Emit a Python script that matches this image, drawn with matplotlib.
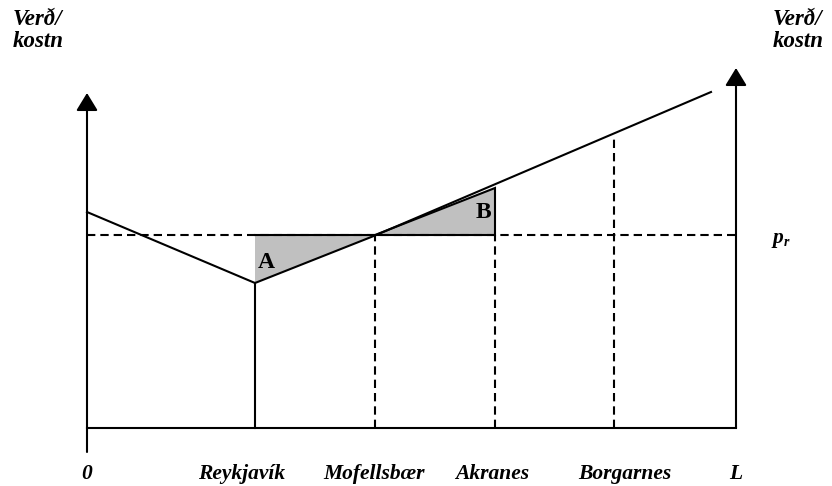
import matplotlib
matplotlib.use("Agg")
import matplotlib.pyplot as plt
from matplotlib.patches import Polygon

# ---- data (diagram units: distance along the road / price-cost level) ----
places = ["0", "Reykjavík", "Mofellsbær", "Akranes", "Borgarnes", "L"]
place_x = [0, 168, 288, 408, 527, 649]          # positions of places on the road
label_x = [0, 155, 287, 405, 538, 649]          # centres of the place labels
price_level = 192.5                              # p_r
cost_x = [0, 168, 288, 624]                      # cost curve break points
cost_y = [216, 145, 192.5, 336]
borgarnes_top = 290
akranes_top = 240
left_axis = (-24, 335)
right_axis = (0, 360)

FONT = "Liberation Serif"

fig = plt.figure(figsize=(8.32, 4.86), dpi=100)
ax = fig.add_axes([0, 0, 1, 1])
ax.set_xlim(-87, 832 - 87)
ax.set_ylim(428 - 486, 428)
ax.axis("off")

LW = 1.5
dash = (0, (4, 2.4))

# shaded triangles A and B
triA = Polygon([(place_x[1], price_level), (place_x[2], price_level), (place_x[1], cost_y[1])],
               closed=True, facecolor="#c0c0c0", edgecolor="none", zorder=1)
triB = Polygon([(place_x[2], price_level), (place_x[3], price_level), (place_x[3], akranes_top)],
               closed=True, facecolor="#c0c0c0", edgecolor="black", lw=LW, zorder=1)
ax.add_patch(triA)
ax.add_patch(triB)
ax.plot([place_x[1], place_x[2]], [price_level, price_level], color="black", lw=LW, zorder=2)

# axes with arrows
arrow = dict(arrowstyle="-|>,head_length=0.9,head_width=0.55", lw=LW, color="black",
             shrinkA=0, shrinkB=0, mutation_scale=12)
ax.annotate("", xy=(place_x[0], left_axis[1]), xytext=(place_x[0], left_axis[0]), arrowprops=arrow)
ax.annotate("", xy=(place_x[-1], right_axis[1]), xytext=(place_x[-1], right_axis[0]), arrowprops=arrow)
ax.plot([place_x[0], place_x[-1]], [0, 0], color="black", lw=LW)

# price level (dashed)
ax.plot([place_x[0], place_x[-1]], [price_level, price_level], color="black", lw=LW, linestyle=dash, zorder=1.5)

# cost curve
ax.plot(cost_x, cost_y, color="black", lw=LW, zorder=3)

# vertical lines at places
ax.plot([place_x[1], place_x[1]], [0, cost_y[1]], color="black", lw=LW)
ax.plot([place_x[2], place_x[2]], [0, price_level], color="black", lw=LW, linestyle=dash)
ax.plot([place_x[3], place_x[3]], [0, price_level], color="black", lw=LW, linestyle=dash)
ax.plot([place_x[4], place_x[4]], [0, borgarnes_top], color="black", lw=LW, linestyle=dash)

# labels
tkw = dict(family=FONT, fontweight="bold", fontstyle="italic", fontsize=15.5, color="black")
for lx, name in zip(label_x, places):
    ax.text(lx, -46, name, ha="center", va="center", **tkw)

hkw = dict(tkw, fontsize=16.5)
ax.text(-74, 419, "Verð/\nkostn", ha="left", va="top", linespacing=1.05, **hkw)
ax.text(686, 419, "Verð/\nkostn", ha="left", va="top", linespacing=1.05, **hkw)

ax.text(686, 190, "p", ha="left", va="center", **tkw)
ax.text(697, 186, "r", ha="left", va="center", family=FONT, fontweight="bold",
        fontstyle="italic", fontsize=10)

ax.text(179, 166, "A", ha="center", va="center", family=FONT, fontweight="bold", fontsize=17)
ax.text(396, 215, "B", ha="center", va="center", family=FONT, fontweight="bold", fontsize=17)

fig.savefig("out.png", dpi=100)
